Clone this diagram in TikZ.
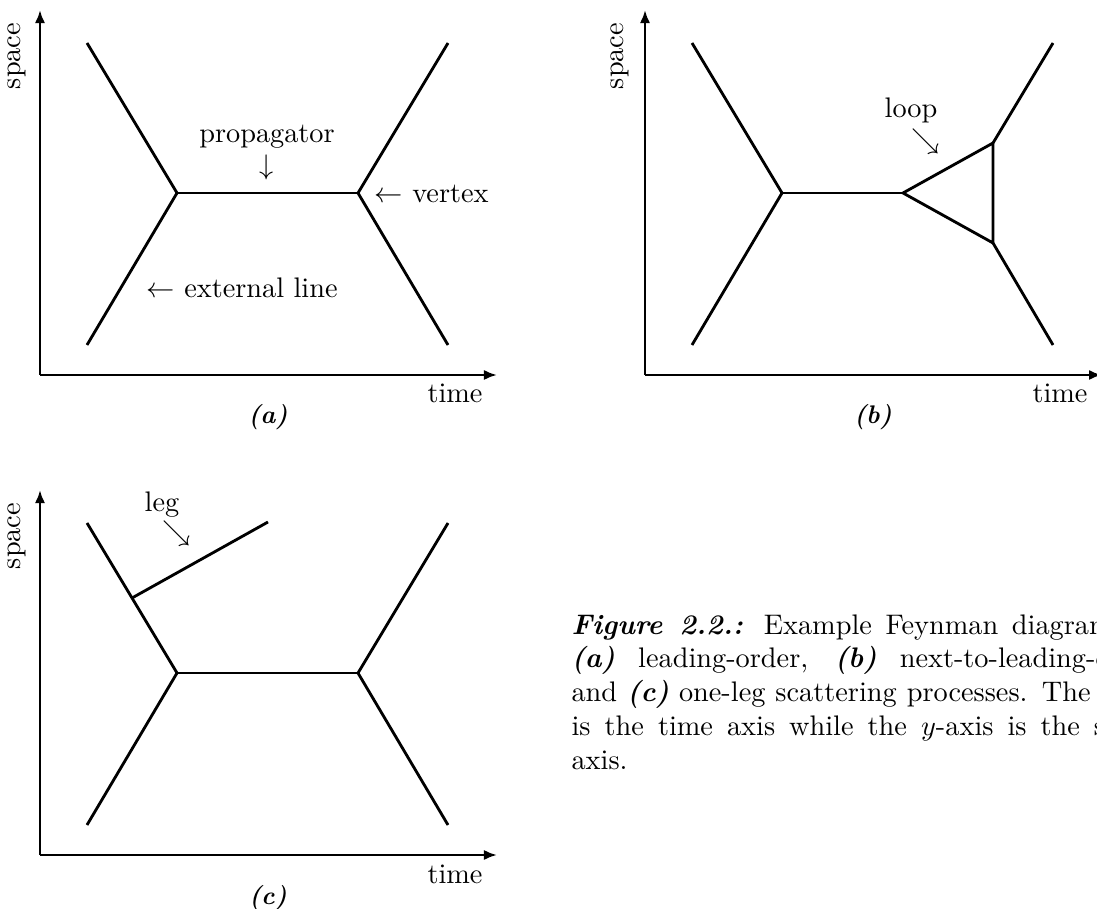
\documentclass[tikz,border=0pt]{standalone}
\usetikzlibrary{arrows.meta,calc}
\newlength\capw
\setlength{\capw}{208pt}
\begin{document}
\begin{tikzpicture}[x=0.3534pt,y=-0.3534pt,
  axis/.style={line width=1pt,-{Latex[length=4.6pt,width=3.6pt]}},
  fline/.style={line width=1pt,line join=miter},
  lbl/.style={inner sep=0pt,anchor=base},
  sublbl/.style={inner sep=0pt,anchor=base,font=\small\bfseries\itshape},
  spacelbl/.style={inner sep=0pt,rotate=90}]
\useasboundingbox (0,0) rectangle (1097,909);
\clip (0,0) rectangle (1097,909);

% ---------- panel (a)
\coordinate (oa) at (40,375);
\coordinate (ya) at (40,10);
\coordinate (xa) at (497,375);
\draw[axis] (oa) -- (ya);
\draw[axis] (oa) -- (xa);
\node[spacelbl] (spa) at (17,56) {space};
\node[lbl] (tia) at (455,403) {time};
\node[sublbl] (capa) at (268,424) {(a)};
\coordinate (a1) at (87,43);
\coordinate (a2) at (87,345);
\coordinate (av1) at (177,193);
\coordinate (av2) at (358,193);
\coordinate (a3) at (448,43);
\coordinate (a4) at (448,345);
\draw[fline] (a1) -- (av1) -- (a2);
\draw[fline] (av1) -- (av2);
\draw[fline] (a3) -- (av2) -- (a4);
\node[lbl] (prop) at (267,143) {propagator};
\node[lbl] (propar) at (267,175) {$\downarrow$};
\node[lbl,anchor=base west] (vert) at (374,203) {$\leftarrow$ vertex};
\node[lbl,anchor=base west] (ext) at (146,298) {$\leftarrow$ external line};

% ---------- panel (b)
\coordinate (ob) at (645,375);
\coordinate (yb) at (645,10);
\coordinate (xb) at (1102,375);
\draw[axis] (ob) -- (yb);
\draw[axis] (ob) -- (xb);
\node[spacelbl] (spb) at (620,56) {space};
\node[lbl] (tib) at (1060,403) {time};
\node[sublbl] (capb) at (873,424) {(b)};
\coordinate (b1) at (692,43);
\coordinate (b2) at (692,345);
\coordinate (bv1) at (782,193);
\coordinate (l1) at (903,193);
\coordinate (l2) at (993,143);
\coordinate (l3) at (993,243);
\coordinate (b3) at (1053,43);
\coordinate (b4) at (1053,345);
\draw[fline] (b1) -- (bv1) -- (b2);
\draw[fline] (bv1) -- (l1);
\draw[fline] (l1) -- (l2) -- (l3) -- cycle;
\draw[fline] (b3) -- (l2);
\draw[fline] (l3) -- (b4);
\node[lbl] (loop) at (911,118) {loop};
\node[inner sep=0pt] (looparr) at (926,141) {$\searrow$};

% ---------- panel (c)
\coordinate (oc) at (40,855);
\coordinate (yc) at (40,490);
\coordinate (xc) at (497,855);
\draw[axis] (oc) -- (yc);
\draw[axis] (oc) -- (xc);
\node[spacelbl] (spc) at (17,536) {space};
\node[lbl] (tic) at (455,883) {time};
\node[sublbl] (capc) at (268,904) {(c)};
\coordinate (c1) at (87,523);
\coordinate (c2) at (87,825);
\coordinate (cv1) at (177,673);
\coordinate (cv2) at (358,673);
\coordinate (c3) at (448,523);
\coordinate (c4) at (448,825);
\coordinate (lg1) at ($(c1)!0.5!(cv1)$);
\coordinate (lg2) at (268,522);
\draw[fline] (c1) -- (cv1) -- (c2);
\draw[fline] (cv1) -- (cv2);
\draw[fline] (c3) -- (cv2) -- (c4);
\draw[fline] (lg1) -- (lg2);
\node[lbl] (leg) at (162,512) {leg};
\node[inner sep=0pt] (legarr) at (177,533) {$\searrow$};

% ---------- caption
\node[anchor=base west,inner sep=0pt] (caption) at (571,634) {\parbox[t]{\capw}{%
\makebox[\capw][s]{\textbf{\textit{Figure 2.2.:}} Example Feynman diagrams of}\\
\makebox[\capw][s]{\textbf{\textit{(a)}} leading-order, \textbf{\textit{(b)}} next-to-leading-order}\\
\makebox[213pt][s]{and \textbf{\textit{(c)}} one-leg scattering processes. The $x$-axis}\\
\makebox[\capw][s]{is the time axis while the $y$-axis is the space}\\
axis.}};
\end{tikzpicture}
\end{document}
